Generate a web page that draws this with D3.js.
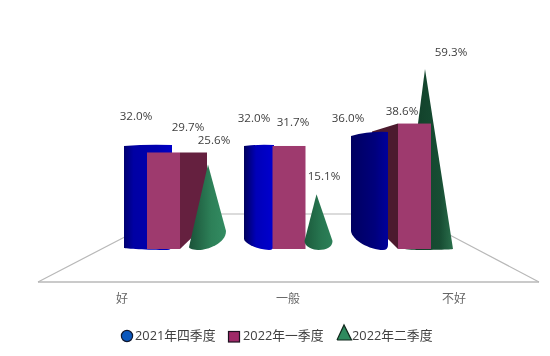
<!DOCTYPE html>
<html>
<head>
<meta charset="utf-8">
<script src="https://cdn.jsdelivr.net/npm/d3@7"></script>
<style>
  html, body { margin: 0; background: #fff; }
  svg { display: block; filter: blur(0.35px); }
  text { font-family: "Open Sans", "Noto Sans CJK SC", sans-serif; }
</style>
</head>
<body>
<svg id="chart" width="550" height="356"></svg>
<script>
const categories = ["好", "一般", "不好"];
const seriesNames = ["2021年四季度", "2022年一季度", "2022年二季度"];
const q4_2021 = [32.0, 32.0, 36.0];
const q1_2022 = [29.7, 31.7, 38.6];
const q2_2022 = [25.6, 15.1, 59.3];

const svg = d3.select("#chart");
const defs = svg.append("defs");

// the picture is a perspective view, so every series gets its own scales
const yBox = d3.scaleLinear().domain([0, 60]).range([249, 54]);
const yCone = d3.scaleLinear().domain([0, 60]).range([237, 67]);
const perCat = (range) => d3.scaleOrdinal().domain(categories).range(range);

const xCyl = perCat([124, 244, 351]);
const cylWidth = perCat([48, 30, 37]);
const cylDrop = perCat([1, 10, 18]);
const cylTilt = perCat([1, 1, 4]);
const xBox = d3.scalePoint().domain(categories).range([147, 398]);
const boxWidth = 33;
const boxSide = perCat([27, 0, -26]);
const xCone = d3.scalePoint().domain(categories).range([208, 425]);
const coneLeft = perCat([19, 12, 23]);
const coneRight = perCat([18, 16, 28]);
const coneRise = perCat([19, 9, 1]);
const coneLeftRise = perCat([3, 9, 2]);
const coneLow = perCat([-9, 2, -6]);

const gradient = (id, stops) => {
  const g = defs.append("linearGradient").attr("id", id);
  stops.forEach(([o, c]) => g.append("stop").attr("offset", o).attr("stop-color", c));
};
gradient("cyl0", [["0", "#000070"], ["0.2", "#0000a4"], ["0.7", "#0000b0"], ["1", "#0000c8"]]);
gradient("cyl1", [["0", "#00005c"], ["0.4", "#0000b8"], ["1", "#0000d0"]]);
gradient("cyl2", [["0", "#000060"], ["0.65", "#00007c"], ["1", "#00009c"]]);
gradient("cone0", [["0", "#1a5238"], ["0.6", "#2d8058"], ["1", "#338c62"]]);
gradient("cone1", [["0", "#1b5a3c"], ["0.6", "#277650"], ["1", "#2c8058"]]);
gradient("cone2", [["0", "#0f3a26"], ["0.75", "#174d33"], ["1", "#2a6f4c"]]);

// floor
const floor = svg.append("g").attr("fill", "none").attr("stroke", "#b8b8b8");
floor.append("path")
  .attr("d", d3.line()([[38, 282], [169, 214], [410, 214], [539, 282]]))
  .attr("stroke-width", 1.2);
floor.append("path")
  .attr("d", d3.line()([[38, 282], [539, 282]]))
  .attr("stroke-width", 1.6);

const plot = svg.append("g");

const drawCyl = (sel, cat, value, i) => {
  const x = xCyl(cat);
  const w = cylWidth(cat);
  const top = yBox(value);
  const base = yBox(0);
  const drop = cylDrop(cat);
  const p = d3.path();
  p.moveTo(x, top + cylTilt(cat));
  p.quadraticCurveTo(x + w / 2, top - 1, x + w, top);
  p.lineTo(x + w, base - 4);
  p.quadraticCurveTo(x + w, base + 1, x + w - 5, base + 1);
  p.bezierCurveTo(x + w * 0.5, base + 1, x + 1, base - drop / 2, x, base - drop);
  p.closePath();
  sel.append("path").attr("d", p).attr("fill", `url(#cyl${i})`);
};

const drawBox = (sel, cat, value) => {
  const x = xBox(cat);
  const top = yBox(value);
  const base = yBox(0);
  const side = boxSide(cat);
  if (side > 0) {
    sel.append("path")
      .attr("d", d3.line()([[x + boxWidth, top], [x + boxWidth + side, top], [x + boxWidth + side, base - 26], [x + boxWidth, base]]))
      .attr("fill", "#65203f");
  } else if (side < 0) {
    sel.append("path")
      .attr("d", d3.line()([[x, top], [x + side, top + 8], [x + side, base - 26], [x, base]]))
      .attr("fill", "#4c1a2e");
  }
  sel.append("rect")
    .attr("x", x)
    .attr("y", top)
    .attr("width", boxWidth)
    .attr("height", base - top)
    .attr("fill", "#9e3a6e");
};

const drawCone = (sel, cat, value, i) => {
  const x = xCone(cat);
  const apex = yCone(value);
  const base = yBox(0) + 1;
  const rise = coneRise(cat);
  const leftRise = coneLeftRise(cat);
  const left = x - coneLeft(cat);
  const right = x + coneRight(cat);
  const low = x + coneLow(cat);
  const p = d3.path();
  p.moveTo(x, apex);
  p.lineTo(right, base - rise);
  p.bezierCurveTo(right, base - rise / 3, low + 8, base, low, base);
  p.bezierCurveTo(low - 5, base, left, base - leftRise / 3, left, base - leftRise);
  p.closePath();
  sel.append("path").attr("d", p).attr("fill", `url(#cone${i})`);
};

// draw order changes with the view angle
categories.forEach((cat, i) => {
  const g = plot.append("g");
  if (i === 2) {
    drawCone(g, cat, q2_2022[i], i);
    drawBox(g, cat, q1_2022[i]);
    drawCyl(g, cat, q4_2021[i], i);
  } else {
    drawCyl(g, cat, q4_2021[i], i);
    drawBox(g, cat, q1_2022[i]);
    drawCone(g, cat, q2_2022[i], i);
  }
});

// data labels
const labels = svg.append("g")
  .attr("font-size", 11.6)
  .attr("fill", "#404040")
  .attr("text-anchor", "middle");

const labelAt = (values, xs, ys) => {
  const lx = perCat(xs);
  const ly = perCat(ys);
  labels.append("g").selectAll("text")
    .data(values)
    .join("text")
    .attr("x", (d, i) => lx(categories[i]))
    .attr("y", (d, i) => ly(categories[i]))
    .text((d) => d.toFixed(1) + "%");
};
labelAt(q4_2021, [136, 254, 348], [120, 122, 122]);
labelAt(q1_2022, [188, 293, 402], [131, 126, 115]);
labelAt(q2_2022, [214, 324, 451], [144, 180, 56]);

// category labels
const xLabel = d3.scalePoint().domain(categories).range([122, 454]);
svg.append("g")
  .attr("font-size", 12)
  .attr("fill", "#666")
  .attr("text-anchor", "middle")
  .selectAll("text")
  .data(categories)
  .join("text")
  .attr("x", (d) => xLabel(d))
  .attr("y", 303)
  .text((d) => d);

// legend
const legendX = d3.scaleOrdinal().domain(seriesNames).range([135, 243, 352]);
const legend = svg.append("g")
  .attr("font-size", 12.8)
  .attr("fill", "#404040");
legend.selectAll("text")
  .data(seriesNames)
  .join("text")
  .attr("x", (d) => legendX(d))
  .attr("y", 340)
  .text((d) => d);
legend.append("circle")
  .attr("cx", 127).attr("cy", 336).attr("r", 5.6)
  .attr("fill", "#0b58bd").attr("stroke", "#10182e").attr("stroke-width", 1.2);
legend.append("rect")
  .attr("x", 228.5).attr("y", 331.5).attr("width", 11).attr("height", 10.5)
  .attr("fill", "#9e2a68").attr("stroke", "#1e1020").attr("stroke-width", 1.2);
legend.append("path")
  .attr("d", d3.line()([[337, 340], [344, 325], [351.5, 340], [337, 340]]))
  .attr("fill", "#2f8a5e").attr("stroke", "#10281c").attr("stroke-width", 1.2);
</script>
</body>
</html>
